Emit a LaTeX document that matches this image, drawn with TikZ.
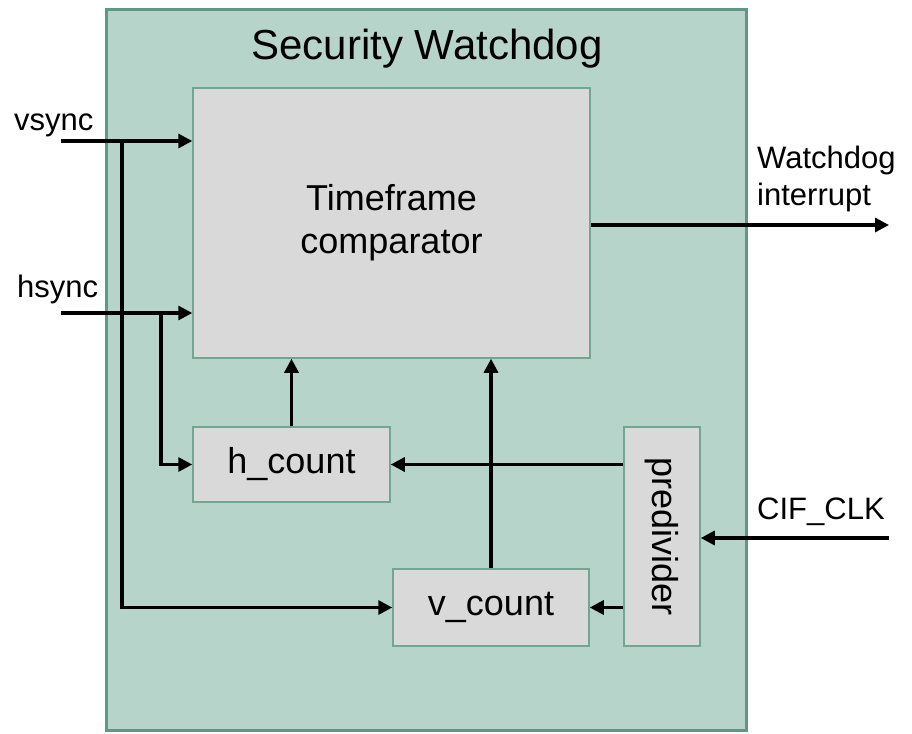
\documentclass[tikz,border=0pt]{standalone}
\usepackage{fontspec}
\setmainfont{Liberation Sans}
\usetikzlibrary{arrows.meta}
\definecolor{wdfill}{RGB}{183,212,203}
\definecolor{wdedge}{RGB}{95,152,132}
\definecolor{blkfill}{RGB}{217,217,217}
\definecolor{blkedge}{RGB}{112,166,146}
\begin{document}
\begin{tikzpicture}[x=1pt,y=-1pt,
  block/.style={draw=blkedge, line width=1.5pt, fill=blkfill, inner sep=0pt,
    align=center, font=\fontsize{36}{43}\selectfont},
  sig/.style={line width=3.2pt, -{Triangle[length=14pt,width=14pt]}},
  lbl/.style={inner sep=0pt, font=\fontsize{31}{37}\selectfont}]
\useasboundingbox (0,0) rectangle (912,733);

% watchdog enclosure and its title
\node[draw=wdedge, fill=wdfill, line width=3pt, inner sep=0pt,
      minimum width=640pt, minimum height=720pt] (wd) at (426,370) {};
\node[anchor=base, inner sep=0pt, font=\fontsize{42}{48}\selectfont]
      (title) at (427,60) {Security Watchdog};

% functional blocks
\node[block, minimum width=397pt, minimum height=270pt] (cmp) at (391.5,223)
      {Timeframe\\comparator};
\node[block, minimum width=197pt, minimum height=75pt] (hc) at (291.5,464.5) {h\_count};
\node[block, minimum width=196pt, minimum height=77pt] (vc) at (491,607.5) {v\_count};
\node[block, minimum width=76pt, minimum height=219pt] (pdv) at (662,536.5)
      {\rotatebox{-90}{predivider}};

% external signal labels
\node[lbl, anchor=base west] (lvs) at (14,130) {vsync};
\node[lbl, anchor=base west] (lhs) at (17,297) {hsync};
\node[lbl, anchor=base west] (lclk) at (757,519) {CIF\_CLK};
\node[lbl, anchor=north west, align=left] (lint) at (757,145.5) {Watchdog\\interrupt};

% signal end points
\coordinate (vin) at (61,141);
\coordinate (vtap) at (122,139);
\coordinate (hin) at (61,313);
\coordinate (htap) at (161,311);
\coordinate (clk) at (889,538);
\coordinate (wout) at (889,225);

% inputs
\draw[sig] (vin) -- (vin -| cmp.west);
\draw[sig] (vtap) |- (vc.west);
\draw[sig] (hin) -- (hin -| cmp.west);
\draw[sig] (htap) |- (hc.west);
\draw[sig] (clk) -- (clk -| pdv.east);

% internal paths
\draw[sig] (hc.north) -- (hc.north |- cmp.south);
\draw[sig] (vc.north) -- (vc.north |- cmp.south);
\draw[sig] (hc.east -| pdv.west) -- (hc.east);
\draw[sig] (vc.east -| pdv.west) -- (vc.east);

% output
\draw[sig] (cmp.east |- wout) -- (wout);
\end{tikzpicture}
\end{document}
